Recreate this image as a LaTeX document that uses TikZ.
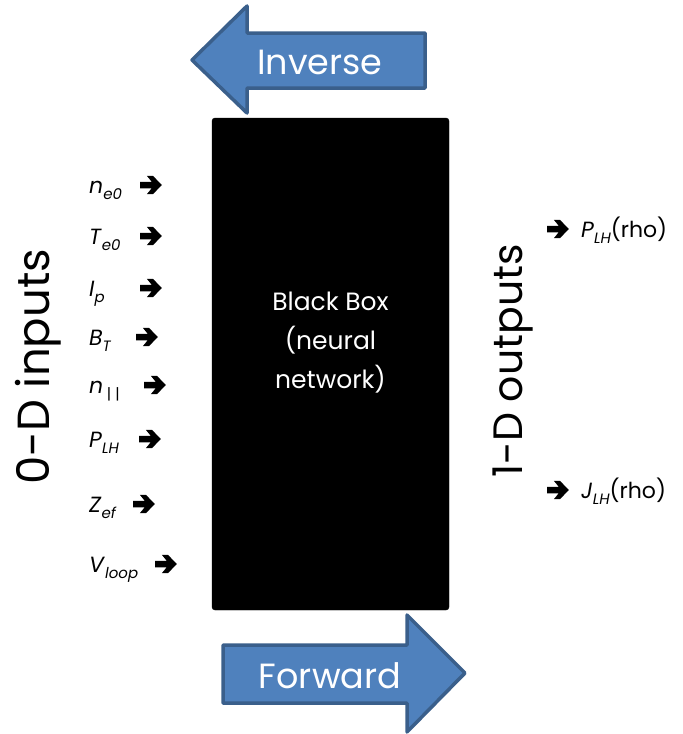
\documentclass[tikz,border=0pt]{standalone}
\usepackage{fontspec}
\setmainfont{Poppins}
\definecolor{arrowfill}{HTML}{4F81BD}
\definecolor{arrowline}{HTML}{3A5F8B}
\newcommand{\lowsub}[1]{\raisebox{-0.55ex}{\fontsize{15}{15}\selectfont #1}}
\newcommand{\rarr}{\tikz[baseline=-8pt,x=1.35pt,y=1.3pt]\fill (0,2.5) -- (8.5,2.5) -- (5,7) -- (9.5,7) -- (16,0) -- (9.5,-7) -- (5,-7) -- (8.5,-2.5) -- (0,-2.5) -- cycle;}
\tikzset{
  blockarrow/.style={fill=arrowfill, draw=arrowline, line width=3.5pt, line join=round},
  arrowtext/.style={text=white, font=\fontsize{35}{40}\selectfont},
  inlabel/.style={anchor=base west, inner sep=0pt, font=\fontsize{22}{24}\selectfont},
  inarrow/.style={anchor=base, inner sep=0pt},
  sidetitle/.style={rotate=90, inner sep=0pt},
  boxstyle/.style={fill=black, rounded corners=3pt}
}
\begin{document}
\begin{tikzpicture}[x=1pt,y=-1pt]
\useasboundingbox (0,0) rectangle (683,734);
% black box
\draw[boxstyle] (212,118) rectangle (449,610);
\node[text=white, align=center, font=\fontsize{25}{39}\selectfont] (bb) at (330.5,343) {Black Box\\(neural\\network)};
% inverse arrow
\draw[blockarrow] (192,60) -- (247,6) -- (247,33) -- (425,33) -- (425,88) -- (247,88) -- (247,113) -- cycle;
\node[arrowtext] (inv) at (320,62) {Inverse};
% forward arrow
\draw[blockarrow] (465,673) -- (407,615) -- (407,645) -- (223,645) -- (223,703) -- (407,703) -- (407,732) -- cycle;
\node[arrowtext] (fwd) at (330,676) {Forward};
% side titles
\node[sidetitle, font=\fontsize{45}{46}\selectfont] (in) at (38,367) {0-D inputs};
\node[sidetitle, font=\fontsize{41}{42}\selectfont] (out) at (513,361) {1-D outputs};
% inputs
\node[inlabel] (l1) at (89,193) {\textit{n}\lowsub{\textit{e0}}};
\node[inarrow] (a1) at (151,193) {\rarr};
\node[inlabel] (l2) at (89,244) {\textit{T}\lowsub{\textit{e0}}};
\node[inarrow] (a2) at (151,244) {\rarr};
\node[inlabel] (l3) at (89,296) {\textit{I}\lowsub{\textit{p}}};
\node[inarrow] (a3) at (151,296) {\rarr};
\node[inlabel] (l4) at (89,345) {\textit{B}\lowsub{\textit{T}}};
\node[inarrow] (a4) at (147,345) {\rarr};
\node[inlabel] (l5) at (89,393) {\textit{n}\,\lowsub{| |}};
\node[inarrow] (a5) at (155,393) {\rarr};
\node[inlabel] (l6) at (89,447) {\textit{P}\lowsub{\textit{LH}}};
\node[inarrow] (a6) at (150,447) {\rarr};
\node[inlabel] (l7) at (89,512) {\textit{Z}\lowsub{\textit{ef}}};
\node[inarrow] (a7) at (144,512) {\rarr};
\node[inlabel] (l8) at (89,572) {\textit{V}\lowsub{\textit{loop}}};
\node[inarrow] (a8) at (166,572) {\rarr};
% outputs
\node[inarrow] (o1a) at (558,237) {\rarr};
\node[inlabel] (o1) at (581,237) {\textit{P}\lowsub{\textit{LH}}(rho)};
\node[inarrow] (o2a) at (558,498) {\rarr};
\node[inlabel] (o2) at (581,498) {\textit{J}\lowsub{\textit{LH}}(rho)};
\end{tikzpicture}
\end{document}
